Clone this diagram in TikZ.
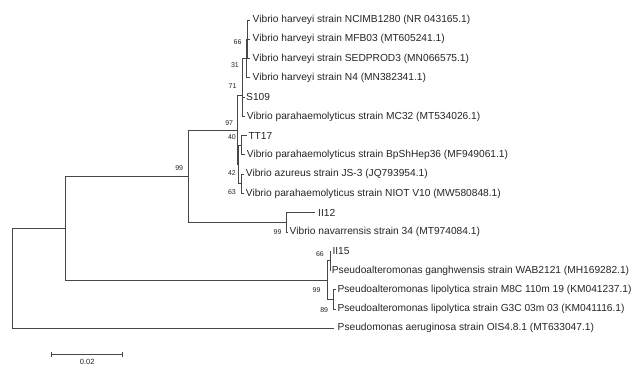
\documentclass[tikz,border=0pt]{standalone}
\usepackage{fontspec}
\setmainfont{Liberation Sans}
\begin{document}
\begin{tikzpicture}[x=1pt,y=-1pt,
  br/.style={draw=black!72, line width=0.9pt},
  leaf/.style={anchor=west, inner sep=0pt, font=\fontsize{10.2}{12}\selectfont, text=black!85},
  boot/.style={anchor=east, inner sep=0pt, font=\fontsize{7}{8}\selectfont, text=black!85},
  scalelbl/.style={anchor=north, inner sep=0pt, font=\fontsize{7.5}{8}\selectfont, text=black!85}]
\useasboundingbox[fill=white] (0,0) rectangle (639,366);

% leaf labels
\node[leaf] (l1)  at (252.5,20)    {Vibrio harveyi strain NCIMB1280 (NR 043165.1)};
\node[leaf] (l2)  at (252.5,39.3)  {Vibrio harveyi strain MFB03 (MT605241.1)};
\node[leaf] (l3)  at (252.5,58.5)  {Vibrio harveyi strain SEDPROD3 (MN066575.1)};
\node[leaf] (l4)  at (252.5,77.8)  {Vibrio harveyi strain N4 (MN382341.1)};
\node[leaf] (l5)  at (246,97.1)    {S109};
\node[leaf] (l6)  at (246.7,116.4) {Vibrio parahaemolyticus strain MC32 (MT534026.1)};
\node[leaf] (l7)  at (248.3,135.6) {TT17};
\node[leaf] (l8)  at (246.7,154.9) {Vibrio parahaemolyticus strain BpShHep36 (MF949061.1)};
\node[leaf] (l9)  at (245.7,174.2) {Vibrio azureus strain JS-3 (JQ793954.1)};
\node[leaf] (l10) at (245.7,193.4) {Vibrio parahaemolyticus strain NIOT V10 (MW580848.1)};
\node[leaf] (l11) at (318,212.7)   {II12};
\node[leaf] (l12) at (289.5,232)   {Vibrio navarrensis strain 34 (MT974084.1)};
\node[leaf] (l13) at (332.3,251.2) {II15};
\node[leaf] (l14) at (331.7,270.5) {Pseudoalteromonas ganghwensis strain WAB2121 (MH169282.1)};
\node[leaf] (l15) at (337.3,289.8) {Pseudoalteromonas lipolytica strain M8C 110m 19 (KM041237.1)};
\node[leaf] (l16) at (337.3,309.1) {Pseudoalteromonas lipolytica strain G3C 03m 03 (KM041116.1)};
\node[leaf] (l17) at (337.5,328.3) {Pseudomonas aeruginosa strain OIS4.8.1 (MT633047.1)};

% branch tips
\coordinate (t1)  at (250,20);
\coordinate (t2)  at (250,39.3);
\coordinate (t3)  at (250,58.5);
\coordinate (t4)  at (250,77.8);
\coordinate (t5)  at (244.5,97.1);
\coordinate (t6)  at (244.5,116.4);
\coordinate (t7)  at (246.5,135.6);
\coordinate (t8)  at (245.2,154.9);
\coordinate (t9)  at (244.3,174.2);
\coordinate (t10) at (244.3,193.4);
\coordinate (t11) at (315,212.7);
\coordinate (t12) at (287.8,232);
\coordinate (t13) at (331,251.2);
\coordinate (t14) at (330.5,270.5);
\coordinate (t15) at (335.8,289.8);
\coordinate (t16) at (335.8,309.1);
\coordinate (t17) at (334,328.3);

% internal nodes
\coordinate (n66)  at (247.7,39.3);
\coordinate (n31)  at (246.6,58.5);
\coordinate (n71)  at (242,95);
\coordinate (n40)  at (241.7,145.25);
\coordinate (n42)  at (241,183.8);
\coordinate (nlow) at (238.8,164.55);
\coordinate (n97)  at (237.3,130);
\coordinate (nii)  at (286,222.35);
\coordinate (nb)   at (188,176.2);
\coordinate (n66p) at (330,260.85);
\coordinate (n89)  at (333.3,299.45);
\coordinate (np)   at (327,280.15);
\coordinate (na)   at (65,228.1);
\coordinate (root) at (12,278.2);

% branches
\draw[br] (n66) |- (t1);
\draw[br] (n66) |- (t2);
\draw[br] (n66) |- (t3);
\draw[br] (n31) |- (n66);
\draw[br] (n31) |- (t4);
\draw[br] (n71) |- (n31);
\draw[br] (n71) |- (t5);
\draw[br] (n71) |- (t6);
\draw[br] (n40) |- (t7);
\draw[br] (n40) |- (t8);
\draw[br] (n42) |- (t9);
\draw[br] (n42) |- (t10);
\draw[br] (nlow) |- (n40);
\draw[br] (nlow) |- (n42);
\draw[br] (n97) |- (n71);
\draw[br] (n97) |- (nlow);
\draw[br] (nii) |- (t11);
\draw[br] (nii) |- (t12);
\draw[br] (nb) |- (n97);
\draw[br] (nb) |- (nii);
\draw[br] (n66p) |- (t13);
\draw[br] (n66p) |- (t14);
\draw[br] (n89) |- (t15);
\draw[br] (n89) |- (t16);
\draw[br] (np) |- (n66p);
\draw[br] (np) |- (n89);
\draw[br] (na) |- (nb);
\draw[br] (na) |- (np);
\draw[br] (root) |- (na);
\draw[br] (root) |- (t17);

% bootstrap values
\node[boot] (b66)  at (241.7,42)    {66};
\node[boot] (b31)  at (239,65.5)    {31};
\node[boot] (b71)  at (236.7,86.5)  {71};
\node[boot] (b97)  at (233.3,123)   {97};
\node[boot] (b40)  at (236,136.7)   {40};
\node[boot] (b42)  at (236,173)     {42};
\node[boot] (b63)  at (236,192.3)   {63};
\node[boot] (b99a) at (183.3,168.3) {99};
\node[boot] (b99b) at (281.7,231.7) {99};
\node[boot] (b66p) at (324,254)     {66};
\node[boot] (b99c) at (320.7,290)   {99};
\node[boot] (b89)  at (328.3,310)   {89};

% scale bar
\coordinate (sb1) at (51.7,354.5);
\coordinate (sb2) at (122.7,354.5);
\draw[br] (sb1) -- (sb2);
\draw[br] ([yshift=-2.8pt]sb1) -- ([yshift=2.8pt]sb1);
\draw[br] ([yshift=-2.8pt]sb2) -- ([yshift=2.8pt]sb2);
\node[scalelbl] (sbl) at (87.2,359.3) {0.02};
\end{tikzpicture}
\end{document}
